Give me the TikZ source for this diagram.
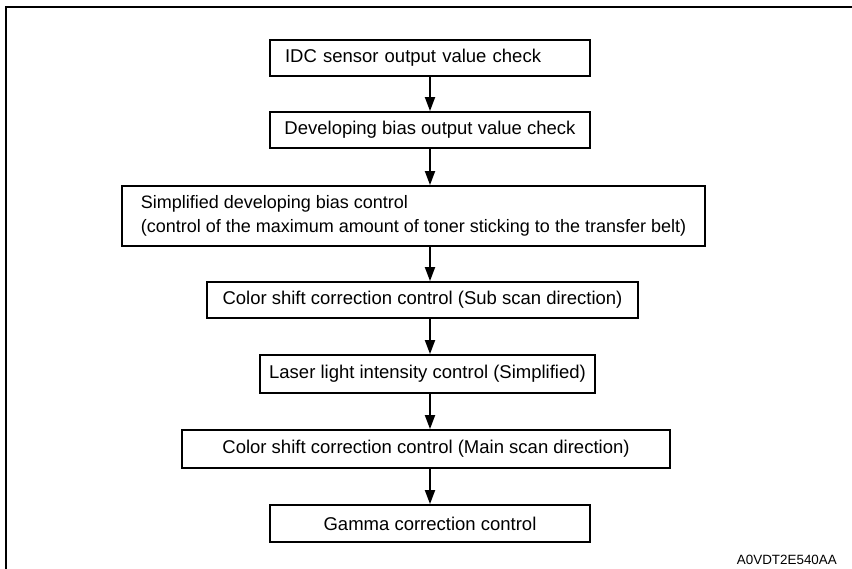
\documentclass[tikz,border=0pt]{standalone}
\usepackage{fontspec}
\setmainfont{Liberation Sans}
\usetikzlibrary{arrows.meta}
\begin{document}
\begin{tikzpicture}[x=1pt,y=-1pt,
  box/.style={draw, line width=1.8pt, inner sep=0pt, font=\fontsize{18.5}{24.5}\selectfont},
  lbox/.style={box, inner xsep=15pt, align=left},
  arr/.style={line width=1.8pt, -{Triangle[length=14pt,width=10pt]}},
  frame/.style={line width=2.6pt}]
\useasboundingbox (0,0) rectangle (852,569);
\draw[frame] (852,7) -- (6,7) -- (6,569);
\node[lbox, text width=290pt, minimum height=36pt] (b1) at (430,58) {IDC sensor output value check};
\node[box, minimum width=320pt, minimum height=36pt] (b2) at (430,130) {Developing bias output value check};
\node[lbox, font=\fontsize{18}{24.5}\selectfont, minimum width=583pt, minimum height=60pt] (b3) at (413.5,216) {Simplified developing bias control\\(control of the maximum amount of toner sticking to the transfer belt)};
\node[box, minimum width=431pt, minimum height=36pt] (b4) at (422.5,300) {Color shift correction control (Sub scan direction)};
\node[box, minimum width=335pt, minimum height=38pt] (b5) at (427.5,374) {Laser light intensity control (Simplified)};
\node[box, minimum width=488pt, minimum height=38pt] (b6) at (426,449) {Color shift correction control (Main scan direction)};
\node[box, minimum width=320pt, minimum height=37pt] (b7) at (430,523.5) {Gamma correction control};
\node[font=\fontsize{13.4}{16}\selectfont, anchor=east, inner sep=0pt] (lab) at (837,560) {A0VDT2E540AA};
\draw[arr] (b1.south) -- (b1.south |- b2.north);
\draw[arr] (b2.south) -- (b2.south |- b3.north);
\draw[arr] (b2.south |- b3.south) -- (b2.south |- b4.north);
\draw[arr] (b2.south |- b4.south) -- (b2.south |- b5.north);
\draw[arr] (b2.south |- b5.south) -- (b2.south |- b6.north);
\draw[arr] (b2.south |- b6.south) -- (b2.south |- b7.north);
\end{tikzpicture}
\end{document}
